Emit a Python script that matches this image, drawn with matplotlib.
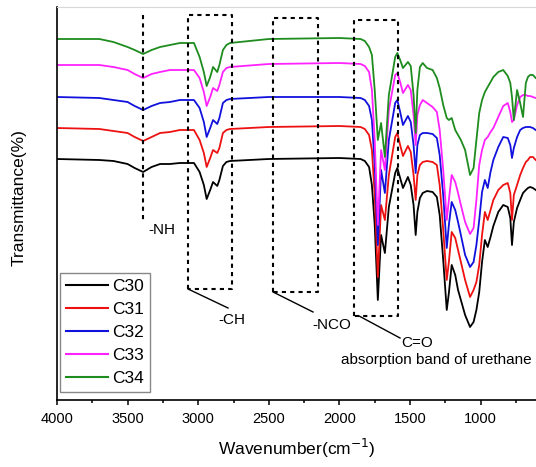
import numpy as np
import matplotlib
matplotlib.use('Agg')
import matplotlib.pyplot as plt
from matplotlib.ticker import MultipleLocator

plt.rcParams['font.family'] = ['Liberation Sans', 'DejaVu Sans']

# FTIR spectra (transmittance in arbitrary units, stacked)
wavenumber = [4000, 3700, 3600, 3500, 3450, 3390, 3330, 3270, 3200, 3130,
              3080, 3030, 2990, 2960, 2940, 2915, 2895, 2865, 2850, 2825,
              2800, 2775, 2500, 2000, 1850, 1820, 1790, 1770, 1750, 1728,
              1705, 1678, 1650, 1605, 1590, 1570, 1550, 1515, 1495, 1475,
              1460, 1448, 1430, 1410, 1380, 1340, 1310, 1290, 1265, 1240,
              1225, 1205, 1180, 1160, 1140, 1110, 1075, 1050, 1030, 1010,
              990, 970, 950, 930, 910, 875, 840, 808, 790, 778,
              765, 742, 720, 700, 680, 665, 650, 630, 610]

c30 = [241, 240, 239, 236, 232, 228, 233, 236, 236, 237,
       237, 237, 228, 215, 201, 210, 218, 214, 220, 234,
       238, 239, 241, 242, 241, 239, 233, 215, 175, 100,
       165, 147, 193, 227, 232, 222, 212, 223, 215, 195,
       165, 188, 202, 207, 209, 208, 203, 185, 140, 90,
       107, 135, 125, 110, 100, 85, 73, 78, 90, 108,
       138, 160, 153, 163, 174, 188, 195, 193, 182, 155,
       178, 192, 200, 207, 210, 212, 213, 212, 210]

c31 = [272, 271, 269, 267, 263, 259, 263, 267, 268, 270,
       270, 270, 260, 247, 233, 242, 250, 247, 252, 267,
       270, 271, 273, 274, 273, 271, 265, 250, 205, 123,
       195, 180, 225, 263, 267, 255, 244, 254, 248, 225,
       200, 225, 235, 238, 239, 238, 235, 215, 170, 120,
       138, 168, 162, 150, 138, 120, 103, 110, 118, 135,
       165, 188, 180, 190, 200, 210, 215, 217, 207, 180,
       205, 215, 225, 232, 238, 240, 243, 243, 240]

c32 = [303, 302, 300, 298, 294, 290, 294, 297, 298, 300,
       300, 300, 292, 278, 263, 272, 280, 276, 282, 297,
       300, 301, 303, 303, 302, 300, 294, 280, 235, 155,
       230, 207, 260, 297, 300, 288, 275, 284, 278, 255,
       227, 255, 265, 267, 267, 266, 262, 245, 205, 152,
       175, 198, 190, 178, 165, 145, 133, 138, 155, 180,
       208, 220, 212, 228, 240, 253, 263, 262, 255, 242,
       252, 263, 270, 272, 273, 273, 273, 272, 270]

c33 = [335, 335, 333, 330, 326, 322, 326, 328, 330, 330,
       330, 330, 322, 308, 294, 303, 312, 309, 315, 328,
       332, 333, 336, 337, 336, 334, 328, 310, 260, 175,
       250, 230, 290, 325, 327, 318, 307, 315, 310, 285,
       255, 285, 295, 300, 297, 293, 288, 270, 230, 180,
       200, 225, 218, 207, 195, 178, 166, 172, 200, 235,
       250, 260, 263, 268, 272, 283, 294, 297, 288, 278,
       280, 295, 303, 305, 305, 304, 304, 303, 302]

c34 = [361, 361, 358, 353, 350, 346, 350, 353, 355, 357,
       357, 357, 343, 328, 314, 323, 333, 328, 335, 350,
       355, 357, 361, 362, 361, 359, 353, 345, 310, 260,
       277, 243, 305, 343, 347, 340, 332, 338, 334, 305,
       267, 310, 333, 337, 332, 330, 322, 312, 295, 282,
       280, 282, 270, 265, 260, 250, 225, 232, 260, 287,
       300, 308, 313, 318, 323, 328, 330, 324, 317, 303,
       280, 310, 297, 283, 317, 323, 325, 325, 322]

labels = ['C30', 'C31', 'C32', 'C33', 'C34']
colors = ['black', '#ee1111', '#1111dd', '#ff22ff', '#1e8c1e']

fig = plt.figure(figsize=(5.36, 4.67), dpi=100)
ax = fig.add_axes([0.1063, 0.1435, 0.8937, 0.8415])

for y, lab, col in zip([c30, c31, c32, c33, c34], labels, colors):
    ax.plot(wavenumber, y, color=col, lw=1.3, label=lab)

ax.set_xlim(4000, 608)
ax.set_ylim(0, 393)

# dashed marker boxes for the bands
dash = dict(color='black', lw=1.5, ls=(0, (2, 2)))
ax.plot([3390, 3390], [385, 178], **dash)
ax.text(3355, 170, '-NH', fontsize=11, ha='left', va='center')

boxes = [(3072, 2761, 385, 111), (2470, 2152, 382, 108), (1897, 1585, 380, 84)]
for x0, x1, top, bot in boxes:
    ax.plot([x0, x0, x1, x1, x0], [bot, top, top, bot, bot], **dash)

# leader lines + labels
ax.plot([3072, 2789], [111, 92], color='black', lw=1.0)
ax.text(2761, 80, '-CH', fontsize=11, ha='center', va='center')
ax.plot([2470, 2187], [108, 88], color='black', lw=1.0)
ax.text(2052, 75, '-NCO', fontsize=11, ha='center', va='center')
ax.plot([1861, 1571], [84, 62], color='black', lw=1.0)
ax.text(1447, 57, 'C=O', fontsize=11, ha='center', va='center')
ax.text(1316, 40, 'absorption band of urethane', fontsize=11, ha='center', va='center')

# axes styling
ax.spines['right'].set_visible(False)
ax.spines['top'].set_color('#d8d8d8')
ax.spines['left'].set_linewidth(1.2)
ax.spines['bottom'].set_linewidth(1.2)
ax.set_yticks([])
ax.set_xticks([4000, 3500, 3000, 2500, 2000, 1500, 1000])
ax.xaxis.set_minor_locator(MultipleLocator(250))
ax.tick_params(axis='x', which='major', direction='out', length=3.6, width=1.1,
               labelsize=10.5, pad=5)
ax.tick_params(axis='x', which='minor', direction='out', length=2.2, width=1.1)

ax.set_xlabel('Wavenumber(cm$^{-1}$)', fontsize=12.5, labelpad=8)
fig.text(19 / 536, 1 - 198 / 467, 'Transmittance(%)', fontsize=12.5,
         rotation=90, ha='center', va='center')

leg = ax.legend(loc='lower left', bbox_to_anchor=(0.006, 0.02), borderaxespad=0,
                fontsize=12.5, handlelength=2.4, handletextpad=0.25,
                labelspacing=0.45, fancybox=False, framealpha=1,
                edgecolor='#888888', borderpad=0.35)
leg.get_frame().set_linewidth(1.0)
for line in leg.get_lines():
    line.set_linewidth(1.5)

fig.savefig('out.png', dpi=100)
